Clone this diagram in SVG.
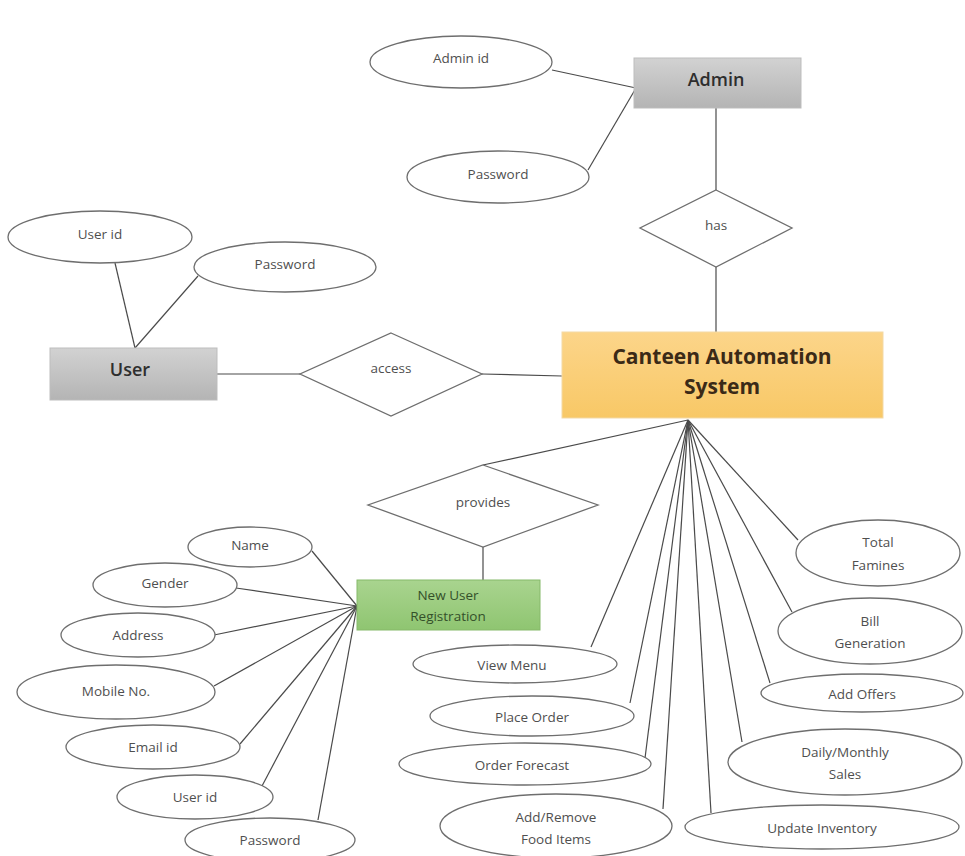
<svg xmlns="http://www.w3.org/2000/svg" width="965" height="856" viewBox="0 0 965 856">
<defs>
<linearGradient id="gGray" x1="0" y1="0" x2="0" y2="1"><stop offset="0" stop-color="#d2d2d2"/><stop offset="1" stop-color="#b4b4b4"/></linearGradient>
<linearGradient id="gOrange" x1="0" y1="0" x2="0" y2="1"><stop offset="0" stop-color="#fcd58a"/><stop offset="1" stop-color="#f8c866"/></linearGradient>
<linearGradient id="gGreen" x1="0" y1="0" x2="0" y2="1"><stop offset="0" stop-color="#a9d48f"/><stop offset="1" stop-color="#8fc571"/></linearGradient>
</defs>
<style>
.attr{fill:#fff;stroke:#6e6e6e;stroke-width:1.3}
.rel{fill:#fff;stroke:#6e6e6e;stroke-width:1.3}
.lbl{font-family:"Open Sans","Liberation Sans",sans-serif;font-size:13.5px;fill:#4f4f4f;text-anchor:middle;dominant-baseline:central}
.ent{font-family:"Open Sans","Liberation Sans",sans-serif;font-size:18px;font-weight:600;fill:#2e2e2e;text-anchor:middle;dominant-baseline:central}
.big{font-family:"Open Sans","Liberation Sans",sans-serif;font-size:21px;font-weight:bold;fill:#3b2a17;text-anchor:middle;dominant-baseline:central}
.grn{fill:#34502a}
.con line{stroke:#4a4a4a;stroke-width:1.2}
</style>
<rect width="965" height="856" fill="#fff"/>
<g class="con">
<line x1="552" y1="70" x2="636" y2="88"/>
<line x1="588" y1="170" x2="636" y2="88"/>
<line x1="716" y1="108" x2="716" y2="190"/>
<line x1="716" y1="267" x2="716" y2="332"/>
<line x1="115" y1="263" x2="135" y2="348"/>
<line x1="198" y1="276" x2="135" y2="348"/>
<line x1="217" y1="374" x2="300" y2="374"/>
<line x1="482" y1="374" x2="562" y2="376"/>
<line x1="688" y1="420" x2="483" y2="465"/>
<line x1="483" y1="547" x2="483" y2="580"/>
<line x1="357" y1="606" x2="312" y2="551"/>
<line x1="357" y1="606" x2="236" y2="588"/>
<line x1="357" y1="606" x2="214" y2="635"/>
<line x1="357" y1="606" x2="214" y2="686"/>
<line x1="357" y1="606" x2="240" y2="744"/>
<line x1="357" y1="606" x2="262" y2="786"/>
<line x1="357" y1="606" x2="318" y2="820"/>
<line x1="688" y1="420" x2="591" y2="647"/>
<line x1="688" y1="420" x2="630" y2="703"/>
<line x1="688" y1="420" x2="645" y2="758"/>
<line x1="688" y1="420" x2="663" y2="809"/>
<line x1="688" y1="420" x2="711" y2="813"/>
<line x1="688" y1="420" x2="742" y2="742"/>
<line x1="688" y1="420" x2="770" y2="683"/>
<line x1="688" y1="420" x2="792" y2="612"/>
<line x1="688" y1="420" x2="798" y2="540"/>
</g>
<g id="admin"><rect x="634" y="58" width="167" height="50" fill="url(#gGray)" stroke="#bdbdbd"/><text class="ent" x="716" y="79">Admin</text></g>
<g id="admin-id"><ellipse class="attr" cx="461" cy="62" rx="91" ry="26"/><text class="lbl" x="461" y="58">Admin id</text></g>
<g id="admin-password"><ellipse class="attr" cx="498" cy="177" rx="91" ry="26"/><text class="lbl" x="498" y="174">Password</text></g>
<g id="has"><polygon class="rel" points="716,190 792,228 716,267 640,228"/><text class="lbl" x="716" y="225">has</text></g>
<g id="user"><rect x="50" y="348" width="167" height="52" fill="url(#gGray)" stroke="#bdbdbd"/><text class="ent" x="130" y="369">User</text></g>
<g id="user-id"><ellipse class="attr" cx="100" cy="237" rx="92" ry="26"/><text class="lbl" x="100" y="234">User id</text></g>
<g id="user-password"><ellipse class="attr" cx="285" cy="267" rx="91" ry="25"/><text class="lbl" x="285" y="264">Password</text></g>
<g id="access"><polygon class="rel" points="391,333 482,374 391,416 300,374"/><text class="lbl" x="391" y="368">access</text></g>
<g id="canteen"><rect x="562" y="332" width="321" height="86" fill="url(#gOrange)" stroke="#f3d9a6"/><text class="big" x="722" y="356">Canteen Automation</text><text class="big" x="722" y="386">System</text></g>
<g id="provides"><polygon class="rel" points="483,465 598,505 483,547 368,505"/><text class="lbl" x="483" y="502">provides</text></g>
<g id="new-user-registration"><rect x="357" y="580" width="183" height="50" fill="url(#gGreen)" stroke="#86b96a"/><text class="lbl grn" x="448" y="595">New User</text><text class="lbl grn" x="448" y="616">Registration</text></g>
<g id="name"><ellipse class="attr" cx="250" cy="547" rx="62" ry="20"/><text class="lbl" x="250" y="545">Name</text></g>
<g id="gender"><ellipse class="attr" cx="165" cy="585" rx="72" ry="22"/><text class="lbl" x="165" y="583">Gender</text></g>
<g id="address"><ellipse class="attr" cx="138" cy="635" rx="77" ry="22"/><text class="lbl" x="138" y="635">Address</text></g>
<g id="mobile"><ellipse class="attr" cx="116" cy="692" rx="99" ry="27"/><text class="lbl" x="116" y="691">Mobile No.</text></g>
<g id="email"><ellipse class="attr" cx="153" cy="747" rx="87" ry="22"/><text class="lbl" x="153" y="747">Email id</text></g>
<g id="nur-user-id"><ellipse class="attr" cx="195" cy="797" rx="78" ry="22"/><text class="lbl" x="195" y="797">User id</text></g>
<g id="nur-password"><ellipse class="attr" cx="270" cy="840" rx="85" ry="22"/><text class="lbl" x="270" y="840">Password</text></g>
<g id="view-menu"><ellipse class="attr" cx="515" cy="664" rx="102" ry="19"/><text class="lbl" x="512" y="665">View Menu</text></g>
<g id="place-order"><ellipse class="attr" cx="532" cy="716" rx="102" ry="20"/><text class="lbl" x="532" y="717">Place Order</text></g>
<g id="order-forecast"><ellipse class="attr" cx="525" cy="764" rx="126" ry="21"/><text class="lbl" x="522" y="765">Order Forecast</text></g>
<g id="add-remove"><ellipse class="attr" cx="556" cy="826" rx="116" ry="32"/><text class="lbl" x="556" y="817">Add/Remove</text><text class="lbl" x="556" y="839">Food Items</text></g>
<g id="update-inventory"><ellipse class="attr" cx="822" cy="827" rx="137" ry="22"/><text class="lbl" x="822" y="828">Update Inventory</text></g>
<g id="daily-monthly"><ellipse class="attr" cx="845" cy="762" rx="117" ry="33"/><text class="lbl" x="845" y="752">Daily/Monthly</text><text class="lbl" x="845" y="774">Sales</text></g>
<g id="add-offers"><ellipse class="attr" cx="862" cy="693" rx="101" ry="19"/><text class="lbl" x="862" y="694">Add Offers</text></g>
<g id="bill-generation"><ellipse class="attr" cx="870" cy="631" rx="92" ry="33"/><text class="lbl" x="870" y="621">Bill</text><text class="lbl" x="870" y="643">Generation</text></g>
<g id="total-famines"><ellipse class="attr" cx="878" cy="553" rx="82" ry="33"/><text class="lbl" x="878" y="542">Total</text><text class="lbl" x="878" y="565">Famines</text></g>
</svg>
